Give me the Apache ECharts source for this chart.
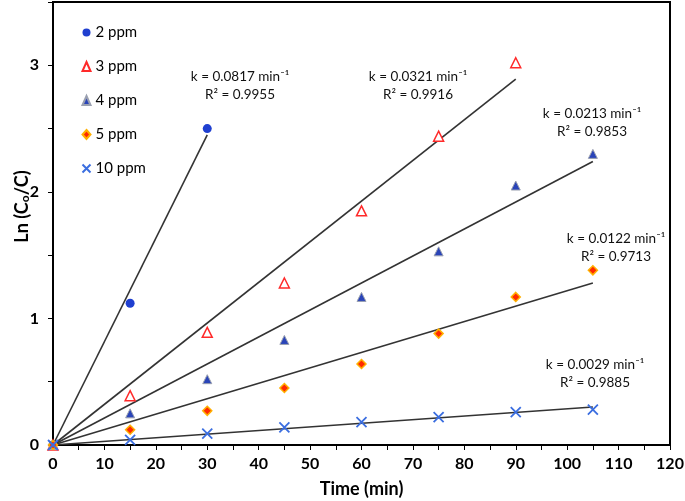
<!DOCTYPE html>
<html><head><meta charset="utf-8">
<script src="https://cdn.jsdelivr.net/npm/echarts@6/dist/echarts.min.js"></script>
<style>html,body{margin:0;padding:0;background:#fff}#c{width:685px;height:501px}</style>
</head><body><div id="c"></div>
<script>
const seriesNames = ['2 ppm', '3 ppm', '4 ppm', '5 ppm', '10 ppm'];
const time2 = [0, 15, 30];
const val2 = [0, 1.12, 2.50];
const timeAll = [0, 15, 30, 45, 60, 75, 90, 105];
const time3 = [0, 15, 30, 45, 60, 75, 90];
const val3 = [0, 0.39, 0.89, 1.28, 1.85, 2.44, 3.02];
const val4 = [0, 0.25, 0.52, 0.83, 1.17, 1.53, 2.05, 2.30];
const val5 = [0, 0.12, 0.27, 0.45, 0.64, 0.88, 1.17, 1.38];
const val10 = [0, 0.04, 0.09, 0.14, 0.18, 0.22, 0.26, 0.28];
// trend lines (through origin): end x and end y
const trendEndX = [30, 90, 105, 105, 105];
const trendEndY = [2.45, 2.89, 2.24, 1.28, 0.30];
const kLabels = ['k = 0.0817 min\u207B\u00B9', 'k = 0.0321 min\u207B\u00B9', 'k = 0.0213 min\u207B\u00B9', 'k = 0.0122 min\u207B\u00B9', 'k = 0.0029 min\u207B\u00B9'];
const r2Labels = ['R\u00B2 = 0.9955', 'R\u00B2 = 0.9916', 'R\u00B2 = 0.9853', 'R\u00B2 = 0.9713', 'R\u00B2 = 0.9885'];
const xTicks = [0,10,20,30,40,50,60,70,80,90,100,110,120];
const yTicks = [0,1,2,3];

const FONT = 'Lato';
const pair = (xs, ys) => xs.map((x, i) => [x, ys[i]]);
const xPath = 'path://M0,0L10,10M10,0L0,10';

const scatterDefs = [
  {name: seriesNames[0], data: pair(time2, val2), symbol: 'circle', symbolSize: 9, itemStyle: {color: '#1f3fd0', opacity: 1}},
  {name: seriesNames[1], data: pair(time3, val3), symbol: 'triangle', symbolSize: 10, itemStyle: {color: '#ffffff', borderColor: '#ff2a2a', borderWidth: 1.5, opacity: 1}},
  {name: seriesNames[2], data: pair(timeAll, val4), symbol: 'triangle', symbolSize: 9, itemStyle: {color: '#2a44b8', borderColor: '#9aa0b0', borderWidth: 1, opacity: 1}},
  {name: seriesNames[3], data: pair(timeAll, val5), symbol: 'diamond', symbolSize: 9, itemStyle: {color: '#ff2a00', borderColor: '#ffb000', borderWidth: 1.5, opacity: 1}},
  {name: seriesNames[4], data: pair(timeAll, val10), symbol: xPath, symbolSize: 10, itemStyle: {color: 'none', borderColor: '#3b6ee0', borderWidth: 1.8, opacity: 1}}
];

const series = [];
trendEndX.forEach((ex, i) => {
  series.push({
    type: 'line', name: 'trend' + i, data: [[0, 0], [ex, trendEndY[i]]],
    symbol: 'none', lineStyle: {color: '#333333', width: 1.6}, z: 1, silent: true
  });
});
scatterDefs.forEach(d => series.push(Object.assign({type: 'scatter', z: 3}, d)));

const labelPos = [[240, 86], [418, 86], [592, 123], [616, 248], [595, 374]];
const graphics = [];
labelPos.forEach((p, i) => {
  graphics.push({type: 'text', x: p[0], y: p[1], z: 10,
    style: {text: kLabels[i] + '\n' + r2Labels[i], fill: '#111', font: '13.5px ' + FONT, textAlign: 'center', textVerticalAlign: 'middle', lineHeight: 18}});
});

const chart = echarts.init(document.getElementById('c'));
chart.setOption({
  animation: false,
  backgroundColor: '#fff',
  grid: {left: 53, right: 15, top: 2, bottom: 56, containLabel: false, outerBoundsMode: 'none',
    show: true, borderColor: '#000', borderWidth: 2, backgroundColor: 'transparent'},
  legend: {
    data: seriesNames.map(n => ({name: n})), orient: 'vertical', left: 75, top: 20, itemGap: 19,
    itemWidth: 8, itemHeight: 9, textStyle: {fontFamily: FONT, fontSize: 15, color: '#000'}
  },
  xAxis: {
    type: 'value', min: 0, max: 120, interval: 10,
    name: 'Time (min)', nameLocation: 'middle', nameGap: 35, nameMoveOverlap: false,
    nameTextStyle: {fontFamily: FONT, fontSize: 18, fontWeight: 'bold', color: '#000'},
    axisLine: {lineStyle: {color: '#000', width: 2}},
    axisTick: {show: true, length: 5, lineStyle: {color: '#000'}},
    minorTick: {show: true, splitNumber: 2, length: 5, lineStyle: {color: '#000'}},
    splitLine: {show: false},
    axisLabel: {fontFamily: FONT, fontSize: 16, fontWeight: 'bold', color: '#000', margin: 11,
      formatter: v => xTicks.includes(v) ? String(v) : ''}
  },
  yAxis: {
    type: 'value', min: 0, max: 3.5, interval: 0.5,
    name: '{a|Ln (C}{s|o}{a|/C)}', nameLocation: 'middle', nameGap: 22, nameMoveOverlap: false,
    nameTextStyle: {padding: [0, 0, 0, 34], rich: {
      a: {fontFamily: FONT, fontSize: 18, fontWeight: 'bold', color: '#000', lineHeight: 22, verticalAlign: 'bottom'},
      s: {fontFamily: FONT, fontSize: 12, fontWeight: 'bold', color: '#000', lineHeight: 14, verticalAlign: 'bottom', padding: [7, 0, 0, 0]}
    }},
    axisLine: {lineStyle: {color: '#000', width: 2}},
    axisTick: {show: true, length: 5, lineStyle: {color: '#000'}},
    splitLine: {show: false},
    axisLabel: {fontFamily: FONT, fontSize: 16, fontWeight: 'bold', color: '#000', margin: 14,
      formatter: v => yTicks.includes(v) ? String(v) : ''}
  },
  graphic: graphics,
  series: series
});
</script></body></html>
